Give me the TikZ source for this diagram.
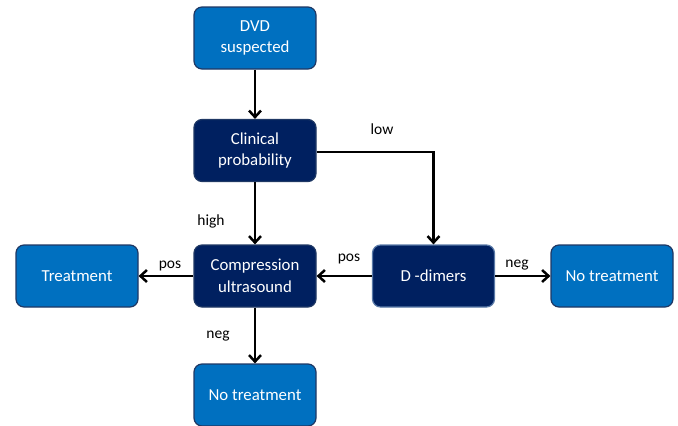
\documentclass[tikz,border=0pt]{standalone}
\usepackage{fontspec}
\setmainfont{Carlito}
\usetikzlibrary{arrows.meta}
\definecolor{lightbox}{HTML}{0070C0}
\definecolor{darkbox}{HTML}{002060}
\definecolor{edgeblue}{HTML}{1F3864}
\definecolor{dimedge}{HTML}{5A7AA8}
\tikzset{
  base/.style={rounded corners=8pt, minimum width=122pt, minimum height=62pt, text=white, font=\fontsize{16.8}{21.5}\selectfont, align=center, line width=1.2pt, draw=edgeblue, inner sep=0pt},
  lbox/.style={base, fill=lightbox},
  dbox/.style={base, fill=darkbox},
  conn/.style={line width=2.5pt, -{Straight Barb[length=6.5pt,width=12pt,line width=2.5pt]}},
  lab/.style={font=\fontsize{15.5}{18}\selectfont, text=black}
}
\begin{document}
\begin{tikzpicture}[x=1pt,y=-1pt]
\useasboundingbox (0,0) rectangle (678,426);
\node[lbox] (dvd) at (255,38) {DVD\\suspected};
\node[dbox] (clin) at (255,150.5) {Clinical\\probability};
\node[dbox] (comp) at (255,276) {Compression\\ultrasound};
\node[lbox] (treat) at (77,276) {Treatment};
\node[dbox, draw=dimedge] (dd) at (433.5,276) {D -dimers};
\node[lbox] (notr) at (612,276) {No treatment};
\node[lbox] (notb) at (255,395) {No treatment};
\coordinate (corner) at (433.5,152);
\draw[conn] (dvd) -- (clin);
\draw[conn] (clin) -- (comp);
\draw[conn] (clin.east |- corner) -- (corner) -- (dd.north);
\draw[conn] (comp) -- (treat);
\draw[conn] (dd) -- (comp);
\draw[conn] (dd) -- (notr);
\draw[conn] (comp) -- (notb);
\node[lab] (llow) at (382,129) {low};
\node[lab] (lhigh) at (211,221) {high};
\node[lab] (lpos1) at (170,266) {pos};
\node[lab] (lpos2) at (349,259) {pos};
\node[lab] (lneg1) at (517,265) {neg};
\node[lab] (lneg2) at (218,336) {neg};
\end{tikzpicture}
\end{document}
